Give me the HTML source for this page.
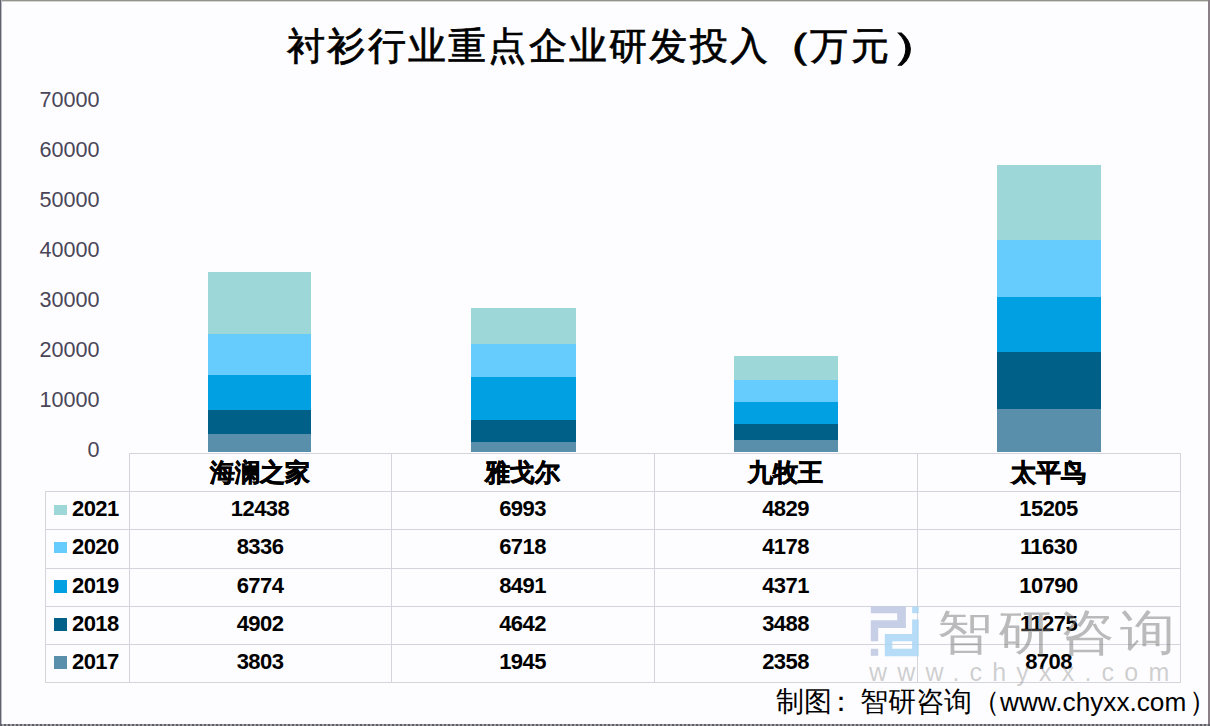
<!DOCTYPE html>
<html><head><meta charset="utf-8">
<style>
*{margin:0;padding:0;box-sizing:border-box}
html,body{width:1210px;height:726px;overflow:hidden;background:#fdfdff}
body{position:relative;font-family:"Liberation Sans",sans-serif;color:#000}
.a{position:absolute}
#bt{left:0;top:0;width:1210px;height:2px;background:linear-gradient(#92938e 0 1px,#d6d6d2 1px 2px)}
#bl{left:0;top:0;width:2px;height:726px;background:linear-gradient(90deg,#62626e 0 1px,#bcbcc6 1px 2px)}
#br{left:1208px;top:0;width:2px;height:726px;background:#8a7f86}
#bb{left:0;top:724px;width:1210px;height:2px;background:repeating-linear-gradient(90deg,#5e5e66 0 2px,#9c9ca2 2px 4px)}
#title{left:287px;top:22px;white-space:nowrap;font-size:38px;letter-spacing:2.25px;font-weight:normal;-webkit-text-stroke:0.7px #000;line-height:48px;font-family:"Liberation Serif",serif}
.yl{left:20px;width:79.5px;text-align:right;font-size:21.6px;line-height:24px;color:#4a4558}
.bar{width:104px}
.grid{background:#d4d4dc}
.hd{font-size:25px;font-weight:bold;-webkit-text-stroke:0.6px #000;text-align:center;line-height:38px}
.cell{font-size:22px;letter-spacing:-0.55px;font-weight:bold;text-align:center;line-height:35px}
.lg{font-size:22px;letter-spacing:-0.55px;font-weight:bold;line-height:35px}
.mk{width:13px;height:11px}
#wmt{left:937px;top:598px;font-size:48px;line-height:70px;letter-spacing:5px;transform:scaleX(1.15);transform-origin:0 0;color:rgba(120,120,120,0.5);white-space:nowrap}
#wmu{left:869px;top:659px;font-size:25px;line-height:26px;letter-spacing:10.2px;color:rgba(140,140,140,0.42);white-space:nowrap}
#foot{left:776px;top:682px;font-size:28px;line-height:40px;color:#000;white-space:nowrap}
</style></head><body>
<div class="a" id="bt"></div><div class="a" id="bl"></div><div class="a" id="br"></div><div class="a" id="bb"></div>
<div class="a" id="title">衬衫行业重点企业研发投入<span style="display:inline-block;transform:scaleX(1.5);transform-origin:28px 0;position:relative;left:1.5px">（</span>万元<span style="display:inline-block;transform:scaleX(1.6);transform-origin:9.5px 0;position:relative;left:4px">）</span></div>

<div class="a yl" style="top:88px">70000</div>
<div class="a yl" style="top:138px">60000</div>
<div class="a yl" style="top:188px">50000</div>
<div class="a yl" style="top:238px">40000</div>
<div class="a yl" style="top:288px">30000</div>
<div class="a yl" style="top:338px">20000</div>
<div class="a yl" style="top:388px">10000</div>
<div class="a yl" style="top:438px">0</div>
<div class="a bar" style="left:208px;width:103px;top:434px;height:18px;background:#5a8fac"></div>
<div class="a bar" style="left:208px;width:103px;top:410px;height:24px;background:#006088"></div>
<div class="a bar" style="left:208px;width:103px;top:375px;height:35px;background:#00a0e2"></div>
<div class="a bar" style="left:208px;width:103px;top:334px;height:41px;background:#66ccfe"></div>
<div class="a bar" style="left:208px;width:103px;top:272px;height:62px;background:#9dd7d8"></div>
<div class="a bar" style="left:471px;width:105px;top:442px;height:10px;background:#5a8fac"></div>
<div class="a bar" style="left:471px;width:105px;top:420px;height:22px;background:#006088"></div>
<div class="a bar" style="left:471px;width:105px;top:377px;height:43px;background:#00a0e2"></div>
<div class="a bar" style="left:471px;width:105px;top:344px;height:33px;background:#66ccfe"></div>
<div class="a bar" style="left:471px;width:105px;top:308px;height:36px;background:#9dd7d8"></div>
<div class="a bar" style="left:734px;width:104px;top:440px;height:12px;background:#5a8fac"></div>
<div class="a bar" style="left:734px;width:104px;top:424px;height:16px;background:#006088"></div>
<div class="a bar" style="left:734px;width:104px;top:402px;height:22px;background:#00a0e2"></div>
<div class="a bar" style="left:734px;width:104px;top:380px;height:22px;background:#66ccfe"></div>
<div class="a bar" style="left:734px;width:104px;top:356px;height:24px;background:#9dd7d8"></div>
<div class="a bar" style="left:997px;width:104px;top:409px;height:43px;background:#5a8fac"></div>
<div class="a bar" style="left:997px;width:104px;top:352px;height:57px;background:#006088"></div>
<div class="a bar" style="left:997px;width:104px;top:297px;height:55px;background:#00a0e2"></div>
<div class="a bar" style="left:997px;width:104px;top:240px;height:57px;background:#66ccfe"></div>
<div class="a bar" style="left:997px;width:104px;top:165px;height:75px;background:#9dd7d8"></div>


<!-- grid -->
<div class="a grid" style="left:129px;top:453px;width:1052px;height:1px"></div>
<div class="a grid" style="left:45px;top:491px;width:1136px;height:1px"></div>
<div class="a grid" style="left:45px;top:529px;width:1136px;height:1px"></div>
<div class="a grid" style="left:45px;top:568px;width:1136px;height:1px"></div>
<div class="a grid" style="left:45px;top:606px;width:1136px;height:1px"></div>
<div class="a grid" style="left:45px;top:644px;width:1136px;height:1px"></div>
<div class="a grid" style="left:45px;top:682px;width:1136px;height:1px"></div>
<div class="a grid" style="left:45px;top:491px;width:1px;height:192px"></div>
<div class="a grid" style="left:129px;top:453px;width:1px;height:230px"></div>
<div class="a grid" style="left:391px;top:453px;width:1px;height:230px"></div>
<div class="a grid" style="left:654px;top:453px;width:1px;height:230px"></div>
<div class="a grid" style="left:917px;top:453px;width:1px;height:230px"></div>
<div class="a grid" style="left:1180px;top:453px;width:1px;height:230px"></div>

<div class="a hd" style="left:129px;top:453px;width:262px;height:38px">海澜之家</div>
<div class="a hd" style="left:391px;top:453px;width:263px;height:38px">雅戈尔</div>
<div class="a hd" style="left:654px;top:453px;width:263px;height:38px">九牧王</div>
<div class="a hd" style="left:917px;top:453px;width:263px;height:38px">太平鸟</div>
<div class="a mk" style="left:54px;top:505px;height:10px;background:#9dd7d8"></div>
<div class="a lg" style="left:72px;top:491px">2021</div>
<div class="a cell" style="left:129px;top:491px;width:262px;height:38px">12438</div>
<div class="a cell" style="left:391px;top:491px;width:263px;height:38px">6993</div>
<div class="a cell" style="left:654px;top:491px;width:263px;height:38px">4829</div>
<div class="a cell" style="left:917px;top:491px;width:263px;height:38px">15205</div>
<div class="a mk" style="left:54px;top:542px;height:11px;background:#66ccfe"></div>
<div class="a lg" style="left:72px;top:529px">2020</div>
<div class="a cell" style="left:129px;top:529px;width:262px;height:38px">8336</div>
<div class="a cell" style="left:391px;top:529px;width:263px;height:38px">6718</div>
<div class="a cell" style="left:654px;top:529px;width:263px;height:38px">4178</div>
<div class="a cell" style="left:917px;top:529px;width:263px;height:38px">11630</div>
<div class="a mk" style="left:54px;top:580px;height:13px;background:#00a0e2"></div>
<div class="a lg" style="left:72px;top:568px">2019</div>
<div class="a cell" style="left:129px;top:568px;width:262px;height:38px">6774</div>
<div class="a cell" style="left:391px;top:568px;width:263px;height:38px">8491</div>
<div class="a cell" style="left:654px;top:568px;width:263px;height:38px">4371</div>
<div class="a cell" style="left:917px;top:568px;width:263px;height:38px">10790</div>
<div class="a mk" style="left:54px;top:618px;height:13px;background:#006088"></div>
<div class="a lg" style="left:72px;top:606px">2018</div>
<div class="a cell" style="left:129px;top:606px;width:262px;height:38px">4902</div>
<div class="a cell" style="left:391px;top:606px;width:263px;height:38px">4642</div>
<div class="a cell" style="left:654px;top:606px;width:263px;height:38px">3488</div>
<div class="a cell" style="left:917px;top:606px;width:263px;height:38px">11275</div>
<div class="a mk" style="left:54px;top:656px;height:13px;background:#5a8fac"></div>
<div class="a lg" style="left:72px;top:644px">2017</div>
<div class="a cell" style="left:129px;top:644px;width:262px;height:38px">3803</div>
<div class="a cell" style="left:391px;top:644px;width:263px;height:38px">1945</div>
<div class="a cell" style="left:654px;top:644px;width:263px;height:38px">2358</div>
<div class="a cell" style="left:917px;top:644px;width:263px;height:38px">8708</div>

<svg class="a" style="left:870px;top:606px" width="50" height="51" viewBox="0 0 50 51">
<g fill="#bcc7e0" fill-opacity="0.85"><path d="M0.8 0.6H35.9V22.1H8.2V35.3H0.8V14.2H27.2V7.2H0.8Z"/><rect x="0.8" y="42.8" width="7.4" height="7"/></g>
<g fill="#a9d6f6" fill-opacity="0.85"><rect x="42.1" y="0.6" width="6.6" height="6.6"/><path d="M42.1 13.4H48.7V50.2H14.8V27.9H42.1ZM22.3 35.3V42.8H42.1V35.3Z"/></g>
</svg>
<div class="a" id="wmt">智研咨询</div>
<div class="a" id="wmu">www.chyxx.com</div>
<div class="a" id="foot">制图<span style="position:relative;left:-5px">：</span>智研咨询（<span style="font-size:26.2px">www.chyxx.com</span><span style="margin-left:2.5px">）</span></div>
</body></html>
